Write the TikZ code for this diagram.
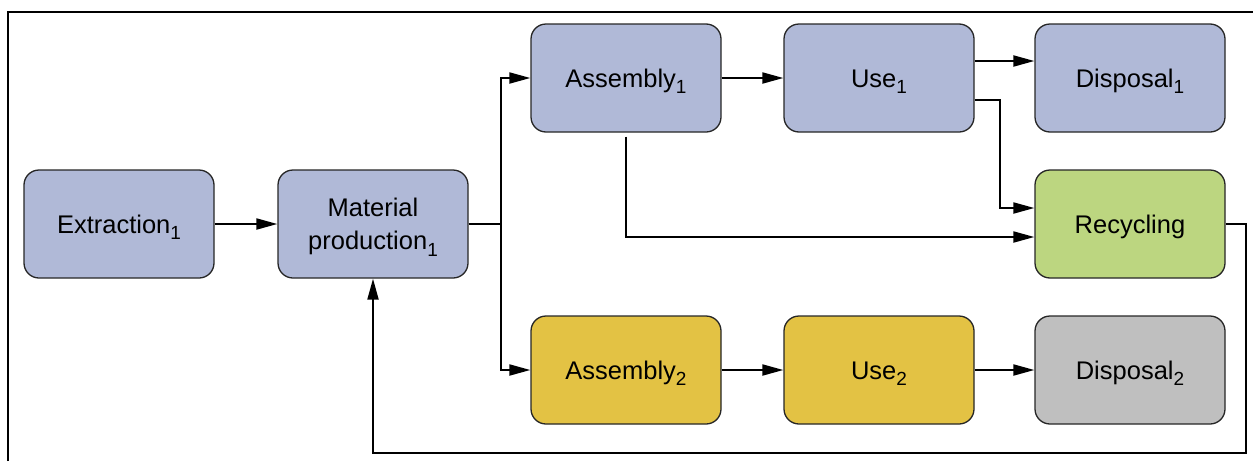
\documentclass[tikz,border=0pt]{standalone}
\usepackage{fontspec}
\setmainfont{Liberation Sans}
\usetikzlibrary{arrows.meta,calc}
\definecolor{boxblue}{HTML}{B0B9D7}
\definecolor{boxgreen}{HTML}{BCD680}
\definecolor{boxyellow}{HTML}{E3C244}
\definecolor{boxgray}{HTML}{BFBFBF}
\newcommand{\mysub}[1]{\raisebox{-6.5pt}[0pt][0pt]{\fontsize{19}{19}\selectfont #1}}
\begin{document}
\begin{tikzpicture}[x=1pt,y=-1pt,
  boxbase/.style={draw=black!85, line width=1.3pt, rounded corners=15pt,
    minimum width=190pt, minimum height=108pt, inner sep=0pt, align=center,
    font=\fontsize{25.5}{33}\selectfont},
  box/.style={boxbase, text height=18.5pt, text depth=0pt},
  conn/.style={line width=2pt, -{Triangle[length=21pt,width=11pt]}},
  frame/.style={line width=2.5pt}]
\useasboundingbox (0,0) rectangle (1253,461);
\draw[frame] (8,461) -- (8,12) -- (1253,12);
\node[box, fill=boxblue] (ext) at (119,224) {Extraction\mysub{1}};
\node[boxbase, fill=boxblue] (mat) at (373,224) {\rule{0pt}{23.7pt}Material\\production\mysub{1}};
\node[box, fill=boxblue] (asm1) at (626,78) {Assembly\mysub{1}};
\node[box, fill=boxblue] (use1) at (879,78) {Use\mysub{1}};
\node[box, fill=boxblue] (dis1) at (1130,78) {Disposal\mysub{1}};
\node[box, fill=boxgreen] (rec) at (1130,224) {Recycling};
\node[box, fill=boxyellow] (asm2) at (626,370) {Assembly\mysub{2}};
\node[box, fill=boxyellow] (use2) at (879,370) {Use\mysub{2}};
\node[box, fill=boxgray] (dis2) at (1130,370) {Disposal\mysub{2}};
\draw[conn] (ext) -- (mat);
\draw[conn] (mat.east) -- ++(32,0) |- (asm1.west);
\draw[conn] (mat.east) -- ++(32,0) |- (asm2.west);
\draw[conn] (asm1) -- (use1);
\draw[conn] ([yshift=17pt]use1.east) -- ([yshift=17pt]dis1.west);
\draw[conn] ([yshift=-22pt]use1.east) -- ++(25,0) |- ([yshift=16pt]rec.west);
\draw[conn] ([yshift=-4pt]asm1.south) |- ([yshift=-13pt]rec.west);
\draw[conn] (asm2) -- (use2);
\draw[conn] (use2) -- (dis2);
\draw[conn] (rec.east) -- ++(20,0) -- ++(0,229) -| (mat.south);
\end{tikzpicture}
\end{document}
